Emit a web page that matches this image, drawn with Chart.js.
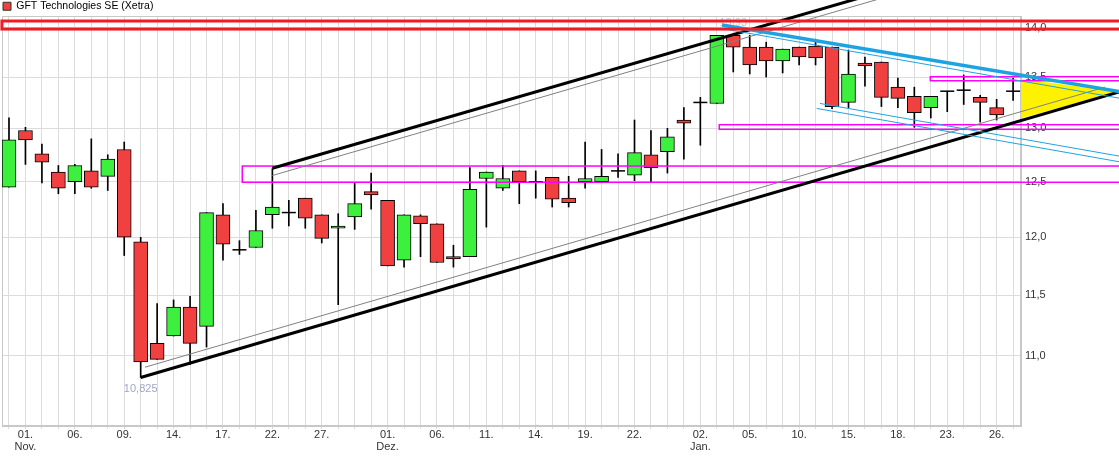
<!DOCTYPE html>
<html><head><meta charset="utf-8">
<script src="https://cdn.jsdelivr.net/npm/chart.js@4.4.0/dist/chart.umd.min.js"></script>
<style>html,body{margin:0;padding:0;background:#fff}#wrap{width:1119px;height:469px;position:relative}</style>
</head><body><div id="wrap"><canvas id="c"></canvas></div>
<script>
const seriesName = 'GFT Technologies SE (Xetra)';
const dates = ['31.10.2023',
 '01.11.2023','02.11.2023','03.11.2023','06.11.2023','07.11.2023','08.11.2023','09.11.2023','10.11.2023','13.11.2023','14.11.2023','15.11.2023','16.11.2023','17.11.2023','20.11.2023','21.11.2023','22.11.2023','23.11.2023','24.11.2023','27.11.2023','28.11.2023','29.11.2023','30.11.2023',
 '01.12.2023','04.12.2023','05.12.2023','06.12.2023','07.12.2023','08.12.2023','11.12.2023','12.12.2023','13.12.2023','14.12.2023','15.12.2023','18.12.2023','19.12.2023','20.12.2023','21.12.2023','22.12.2023','27.12.2023','28.12.2023','29.12.2023',
 '02.01.2024','03.01.2024','04.01.2024','05.01.2024','08.01.2024','09.01.2024','10.01.2024','11.01.2024','12.01.2024','15.01.2024','16.01.2024','17.01.2024','18.01.2024','19.01.2024','22.01.2024','23.01.2024','24.01.2024','25.01.2024','26.01.2024','29.01.2024'];
const open  = [12.45,12.98,12.76,12.59,12.50,12.60,12.55,12.80,11.96,11.10,11.16,11.40,11.24,12.20,11.89,11.91,12.20,12.22,12.35,12.20,12.08,12.18,12.41,12.33,11.80,12.19,12.12,11.83,11.83,12.53,12.44,12.60,12.50,12.54,12.35,12.50,12.50,12.60,12.56,12.75,12.78,13.08,13.25,13.24,13.92,13.80,13.80,13.66,13.80,13.81,13.80,13.25,13.64,13.65,13.40,13.31,13.20,13.36,13.37,13.30,13.20,13.36];
const high  = [13.10,13.01,12.85,12.65,12.66,12.90,12.75,12.87,12.00,11.43,11.46,11.49,12.22,12.30,11.97,12.24,12.62,12.33,12.35,12.20,12.21,12.49,12.58,12.33,12.20,12.20,12.12,11.93,12.63,12.59,12.65,12.60,12.60,12.54,12.55,12.87,12.80,12.76,13.08,12.98,13.00,13.20,13.30,13.92,13.93,13.92,13.85,13.78,13.80,13.88,13.80,13.77,13.70,13.65,13.49,13.40,13.31,13.36,13.52,13.32,13.28,13.49];
const low   = [12.45,12.66,12.49,12.39,12.39,12.44,12.42,11.84,10.825,10.97,11.16,10.93,11.07,11.80,11.85,11.91,12.08,12.10,12.08,11.95,11.42,12.07,12.25,11.75,11.74,11.83,11.78,11.74,11.83,12.09,12.42,12.30,12.35,12.27,12.27,12.44,12.50,12.54,12.51,12.50,12.58,12.71,12.84,13.24,13.55,13.53,13.50,13.54,13.62,13.62,13.19,13.20,13.41,13.21,13.20,13.01,13.10,13.16,13.23,13.06,13.08,13.27];
const close = [12.89,12.89,12.68,12.44,12.65,12.45,12.71,12.00,10.95,10.97,11.40,11.10,12.22,11.94,11.89,12.06,12.27,12.22,12.17,11.99,12.10,12.30,12.38,11.75,12.20,12.12,11.78,11.81,12.43,12.59,12.53,12.50,12.50,12.34,12.31,12.53,12.55,12.60,12.77,12.63,12.92,13.05,13.25,13.92,13.80,13.62,13.66,13.78,13.70,13.69,13.21,13.53,13.61,13.30,13.29,13.15,13.31,13.36,13.37,13.25,13.13,13.36];

const xTickDates  = ['01.11.2023','06.11.2023','09.11.2023','14.11.2023','17.11.2023','22.11.2023','27.11.2023','01.12.2023','06.12.2023','11.12.2023','14.12.2023','19.12.2023','22.12.2023','02.01.2024','05.01.2024','10.01.2024','15.01.2024','18.01.2024','23.01.2024','26.01.2024'];
const xTickLabels = [['01.','Nov.'],'06.','09.','14.','17.','22.','27.',['01.','Dez.'],'06.','11.','14.','19.','22.',['02.','Jan.'],'05.','10.','15.','18.','23.','26.'];
const yTickValues = [11, 11.5, 12, 12.5, 13, 13.5, 14];
const yTickLabels = ['11,0','11,5','12,0','12,5','13,0','13,5','14,0'];
const xRange = [-0.425, 61.48];
const yRange = [10.446, 14.119];

// drawn tools, in (bar index, price)
const channelUpper      = [[16, 12.624], [52.92, 14.37]];
const channelUpperInner = [[16, 12.557], [52.92, 14.30]];
const channelLower      = [[8, 10.825], [67.44, 13.352]];
const channelLowerInner = [[8.26, 10.907], [66.59, 13.40]];
const wedgeUpper        = [[43.32, 14.026], [67.44, 13.356]];
const wedgeUpperInner   = [[43.20, 13.992], [67.44, 13.292]];
const wedgeLowerA       = [[49.27, 13.240], [67.44, 12.738]];
const wedgeLowerB       = [[49.07, 13.192], [67.44, 12.685]];
const zoneRed   = [-0.43, 68.5, 13.984, 14.067];
const zoneMagA  = [14.17, 68.5, 12.495, 12.645];
const zoneMagB  = [43.15, 68.5, 12.991, 13.035];
const zoneMagC  = [55.97, 68.5, 13.463, 13.503];
const forecastTriangle = [[61.49, 13.48], [61.49, 13.096], [67.44, 13.356]];

const GREEN = '#3ef03e', RED = '#f04040';
const fmt = v => String(v).replace('.', ',');

const bodyData = open.map((o, i) => ({x: i, y: o === close[i] ? null : [o, close[i]]}));
const wickData = open.map((o, i) => ({x: i, y: [low[i], high[i]]}));
const dojiData = open.map((o, i) => o === close[i] ? {x: i, y: o} : null).filter(Boolean);

const framePlugin = {
  id: 'frame',
  beforeDatasetsDraw(chart) {
    const {ctx, chartArea: a} = chart;
    ctx.save();
    ctx.strokeStyle = '#c8c8c8'; ctx.lineWidth = 1;
    ctx.strokeRect(Math.round(a.left) + 0.5, Math.round(a.top) + 0.5, Math.round(a.right - a.left) - 1, Math.round(a.bottom - a.top) - 1);
    ctx.restore();
  }
};

const overlayPlugin = {
  id: 'overlays',
  afterDatasetsDraw(chart) {
    const {ctx} = chart; const xs = chart.scales.x, ys = chart.scales.y;
    const P = p => [xs.getPixelForValue(p[0]), ys.getPixelForValue(p[1])];
    ctx.save();
    ctx.fillStyle = '#fff200';
    ctx.beginPath();
    forecastTriangle.forEach((p, i) => { const [px, py] = P(p); i ? ctx.lineTo(px, py) : ctx.moveTo(px, py); });
    ctx.closePath(); ctx.fill();
    const iMin = low.indexOf(Math.min(...low));
    const iMax = high.indexOf(Math.max(...high));
    ctx.font = '11px "Liberation Sans", Arial, sans-serif';
    ctx.textAlign = 'center'; ctx.textBaseline = 'middle';
    let [lx, ly] = P([iMin, low[iMin]]);
    ctx.fillStyle = '#9ea6c6'; ctx.fillText(fmt(low[iMin]), lx, ly + 11);
    [lx, ly] = P([iMax, high[iMax]]);
    ctx.fillStyle = '#c4c4c4'; ctx.fillText(fmt(high[iMax]), lx, ly - 11);
    const rect = (r, color, w) => {
      const x1 = xs.getPixelForValue(r[0]), x2 = xs.getPixelForValue(r[1]);
      const y1 = ys.getPixelForValue(r[3]), y2 = ys.getPixelForValue(r[2]);
      ctx.strokeStyle = color; ctx.lineWidth = w; ctx.strokeRect(x1, y1, x2 - x1, y2 - y1);
    };
    const line = (pts, color, w) => {
      ctx.strokeStyle = color; ctx.lineWidth = w; ctx.beginPath();
      pts.forEach((p, i) => { const [px, py] = P(p); i ? ctx.lineTo(px, py) : ctx.moveTo(px, py); });
      ctx.stroke();
    };
    rect(zoneMagA, '#ff00ff', 1.5);
    rect(zoneMagB, '#ff00ff', 1.5);
    rect(zoneMagC, '#ff00ff', 1.5);
    line(channelUpperInner, '#808080', 1);
    line(channelLowerInner, '#808080', 1);
    line(channelUpper, '#000000', 3);
    line(channelLower, '#000000', 3);
    line(wedgeUpperInner, '#1ea3e2', 1);
    line(wedgeLowerA, '#1ea3e2', 1);
    line(wedgeLowerB, '#1ea3e2', 1);
    line(wedgeUpper, '#1ea3e2', 3.5);
    rect(zoneRed, '#ee1c25', 3);
    ctx.restore();
  }
};

Chart.defaults.font.family = '"Liberation Sans", Arial, sans-serif';
Chart.defaults.font.size = 11;
Chart.defaults.color = '#333';

new Chart(document.getElementById('c'), {
  type: 'bar',
  data: {
    datasets: [
      { label: seriesName, data: bodyData, grouped: false, order: 1,
        backgroundColor: c => { const i = c.dataIndex; return close[i] >= open[i] ? GREEN : RED; },
        borderColor: '#000', borderWidth: 1, borderSkipped: false,
        barThickness: 14, maxBarThickness: 14, barPercentage: 1, categoryPercentage: 1 },
      { label: 'wick', data: wickData, grouped: false, order: 2,
        backgroundColor: '#000', borderWidth: 0,
        barThickness: 1, maxBarThickness: 1, barPercentage: 1, categoryPercentage: 1 },
      { type: 'line', label: 'doji', data: dojiData, order: 0, showLine: false,
        pointStyle: 'line', pointRadius: 7, pointHoverRadius: 7, borderColor: '#000', pointBorderWidth: 1.5, borderWidth: 1.5 }
    ]
  },
  options: {
    responsive: true, maintainAspectRatio: false, animation: false,
    layout: { autoPadding: false, padding: { left: 2, top: 0, right: 0, bottom: 0 } },
    plugins: {
      tooltip: { enabled: false },
      legend: { display: true, position: 'top', align: 'start', maxHeight: 16,
        labels: { boxWidth: 8, boxHeight: 8, padding: 1, color: '#333', font: { size: 10.5 },
          generateLabels: () => [{ text: seriesName, fillStyle: RED, strokeStyle: '#333', lineWidth: 1, hidden: false, datasetIndex: 0 }] } }
    },
    scales: {
      x: { type: 'linear', min: xRange[0], max: xRange[1], offset: false,
        afterBuildTicks: s => { s.ticks = dates.map((d, i) => ({ value: i })); },
        afterFit: s => { s.height = 43; s.paddingLeft = 0; s.paddingRight = 0; },
        ticks: { autoSkip: false, maxRotation: 0, minRotation: 0, padding: 0, color: '#333', font: { size: 11, lineHeight: 1.1 },
          callback: v => { const k = xTickDates.indexOf(dates[v]); return k >= 0 ? xTickLabels[k] : ''; } },
        grid: { color: '#dcdcdc', offset: false, tickLength: 3, drawTicks: true },
        border: { color: '#c8c8c8' } },
      y: { type: 'logarithmic', position: 'right', min: yRange[0], max: yRange[1],
        afterBuildTicks: s => { s.ticks = yTickValues.map(v => ({ value: v })); },
        afterFit: s => { s.width = 98; },
        ticks: { autoSkip: false, padding: 4, color: '#333', font: { size: 11 }, callback: (v, i) => yTickLabels[i] },
        grid: { color: '#dcdcdc', drawTicks: false },
        border: { color: '#c8c8c8' } }
    }
  },
  plugins: [framePlugin, overlayPlugin]
});
</script></body></html>
